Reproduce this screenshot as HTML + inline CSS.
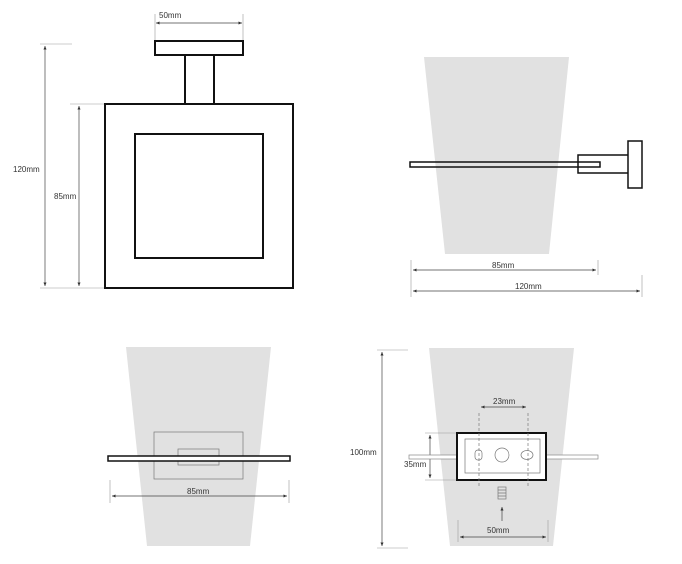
<!DOCTYPE html>
<html><head><style>body{margin:0;background:#fff}svg{display:block}text{font-family:"Liberation Sans",sans-serif;font-size:8px;fill:#333}</style></head><body>
<svg width="682" height="564" viewBox="0 0 682 564" xmlns="http://www.w3.org/2000/svg">
<defs><marker id="a" markerWidth="6" markerHeight="6" refX="5" refY="3" orient="auto-start-reverse"><path d="M0,0.8 L5,3 L0,5.2z" fill="#333"/></marker></defs>
<g fill="#e1e1e1"><polygon points="424,57 569,57 549,254 445,254"/><polygon points="126,347 271,347 250,546 147,546"/><polygon points="429,348 574,348 553,546 450,546"/></g>
<g stroke="#999" stroke-width="0.6" fill="none">
<line x1="155" y1="14" x2="155" y2="41"/><line x1="243" y1="14" x2="243" y2="41"/>
<line x1="40" y1="44" x2="72" y2="44"/><line x1="70" y1="104" x2="105" y2="104"/><line x1="40" y1="288" x2="105" y2="288"/>
<line x1="411" y1="260" x2="411" y2="297"/><line x1="598" y1="260" x2="598" y2="275"/><line x1="642" y1="275" x2="642" y2="297"/>
<line x1="110" y1="480" x2="110" y2="503"/><line x1="289" y1="480" x2="289" y2="503"/>
<line x1="377" y1="350" x2="408" y2="350"/><line x1="377" y1="548" x2="408" y2="548"/>
<line x1="425" y1="433" x2="457" y2="433"/><line x1="425" y1="480" x2="457" y2="480"/>
<line x1="458" y1="520" x2="458" y2="542"/><line x1="548" y1="520" x2="548" y2="542"/>
</g>
<g stroke="#444" stroke-width="0.7" fill="none" marker-start="url(#a)" marker-end="url(#a)">
<line x1="156" y1="23" x2="242" y2="23"/><line x1="45" y1="46" x2="45" y2="286"/><line x1="79" y1="106" x2="79" y2="286"/>
<line x1="413" y1="270" x2="596" y2="270"/><line x1="413" y1="291" x2="640" y2="291"/>
<line x1="112" y1="496" x2="287" y2="496"/>
<line x1="382" y1="352" x2="382" y2="546"/><line x1="430" y1="435" x2="430" y2="478"/>
<line x1="481" y1="407" x2="526" y2="407"/><line x1="460" y1="537" x2="546" y2="537"/>
</g>
<line x1="502" y1="521" x2="502" y2="507" stroke="#444" stroke-width="0.7" marker-end="url(#a)"/>
<g stroke="#111" stroke-width="2" fill="#fff">
<rect x="155" y="41" width="88" height="14"/><rect x="185" y="55" width="29" height="49"/>
<rect x="105" y="104" width="188" height="184"/><rect x="135" y="134" width="128" height="124"/>
</g>
<g stroke="#111" stroke-width="1.5" fill="none">
<rect x="578" y="155" width="51" height="18" fill="#fff"/><rect x="410" y="162" width="190" height="5"/><rect x="628" y="141" width="14" height="47" fill="#fff"/>
</g>
<g stroke="#777" stroke-width="0.7" fill="none"><rect x="154" y="432" width="89" height="47"/><rect x="178" y="449" width="41" height="16"/></g>
<rect x="108" y="456" width="182" height="5" fill="#fff" stroke="#111" stroke-width="1.5"/>
<rect x="409" y="455" width="189" height="4" fill="#fff" stroke="#888" stroke-width="0.7"/>
<rect x="457" y="433" width="89" height="47" fill="#fff" stroke="#111" stroke-width="2"/>
<g stroke="#777" stroke-width="0.7" fill="none">
<rect x="465" y="439" width="75" height="34"/>
<rect x="475" y="450" width="7" height="10" rx="3"/><circle cx="502" cy="455" r="7"/><ellipse cx="527" cy="455" rx="6" ry="4.5"/>
<line x1="479" y1="413" x2="479" y2="487" stroke-dasharray="3,2"/><line x1="528" y1="413" x2="528" y2="487" stroke-dasharray="3,2"/>
<rect x="498" y="487" width="8" height="12"/><path d="M498,490h8M498,493h8M498,496h8"/>
</g>
<text x="159" y="18">50mm</text><text x="13" y="172">120mm</text><text x="54" y="199">85mm</text>
<text x="492" y="268">85mm</text><text x="515" y="289">120mm</text>
<text x="187" y="494">85mm</text>
<text x="350" y="455">100mm</text><text x="404" y="467">35mm</text><text x="493" y="404">23mm</text><text x="487" y="533">50mm</text>
</svg>
</body></html>
